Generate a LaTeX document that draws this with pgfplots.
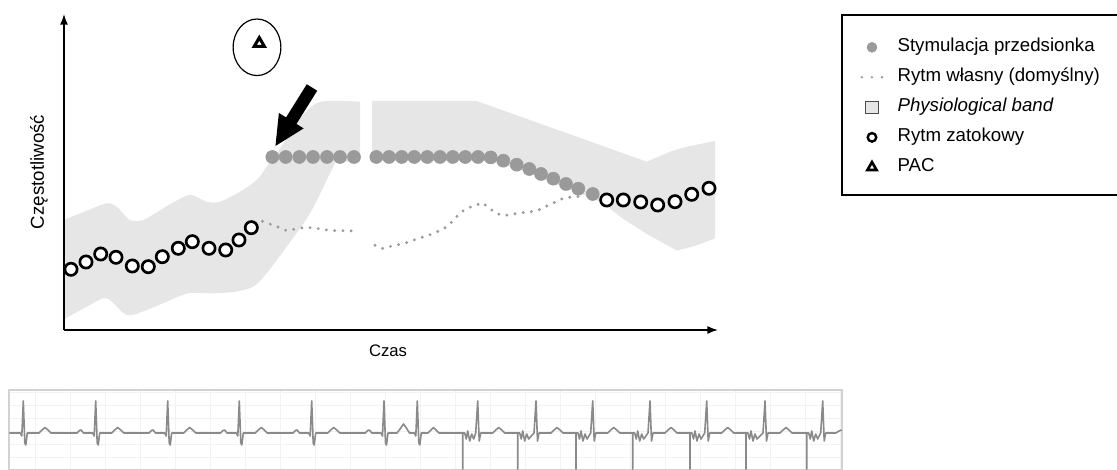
\documentclass[border=0pt]{standalone}
\usepackage{fontspec}
\setmainfont{Liberation Sans}
\usepackage{pgfplots}
\pgfplotsset{compat=1.18}
\usepgfplotslibrary{fillbetween}
\usetikzlibrary{arrows.meta}
\definecolor{band}{HTML}{E6E6E6}
\definecolor{dotgray}{HTML}{9A9A9A}
\definecolor{ecg}{HTML}{8A8A8A}
\begin{document}
\begin{tikzpicture}[x=0.75pt,y=0.75pt]
% ---------------- main chart ----------------
\begin{axis}[
  at={(64,140)}, anchor=south west,
  scale only axis, width=490.5pt, height=237pt,
  xmin=64, xmax=718, ymin=140, ymax=456,
  axis lines=left,
  x axis line style={line width=1.1pt, -{Latex[length=8pt,width=6pt]}},
  y axis line style={line width=1.1pt, -{Latex[length=8pt,width=6pt]}},
  ticks=none, clip=false, axis on top,
  xlabel={Czas}, ylabel={Częstotliwość},
  xlabel style={at={(axis description cs:0.4954,-0.0665)}, anchor=center, font=\fontsize{12.5}{14}\selectfont},
  ylabel style={at={(axis description cs:-0.0382,0.5)}, anchor=center, font=\fontsize{14}{16}\selectfont},
  legend style={at={(axis description cs:1.2177,0.9228)}, anchor=north west, draw=none, fill=none,
    inner sep=0pt, row sep=9.5pt, column sep=10.6pt, font=\fontsize{14}{16}\selectfont,
    nodes={inner sep=0pt, text height=10pt, text depth=3pt}},
  legend cell align=left,
]
% legend images
\addlegendimage{only marks, mark=*, mark size=3.75pt, dotgray, mark options={draw=dotgray, fill=dotgray}}
\addlegendimage{legend image code/.code={\draw[dotgray, line width=2pt, line cap=round, dash pattern=on 0pt off 7.5pt] (0.3cm-7.5pt,0pt) -- (0.3cm+7.6pt,0pt);}}
\addlegendimage{legend image code/.code={\draw[fill=band, draw=black!70, line width=0.75pt] (0.3cm-4.7pt,-4.7pt) rectangle (0.3cm+4.7pt,4.7pt);}}
\addlegendimage{only marks, black, mark=*, mark size=3.2pt, mark options={draw=black, fill=white, line width=1.8pt}}
\addlegendimage{only marks, black, mark=triangle*, mark size=3.9pt, mark options={draw=black, fill=white, line width=2pt}}
\legend{Stymulacja przedsionka, Rytm własny (domyślny), \textit{Physiological band}, Rytm zatokowy, PAC}

% physiological band, left part
\addplot[draw=none, name path=u1, smooth, forget plot] coordinates {
 (64,250) (86,259) (106.7,266.7) (116.7,263.3) (130,250) (143.3,250) (155,256.7) (171.7,266.7)
 (190,275) (206.7,268.3) (220,268.3) (240,278.3) (256.7,290) (266.7,303.3) (276.7,316.7)
 (290,336.7) (303,355) (321,368.3) (360,368.3)};
\addplot[draw=none, name path=l1, smooth, forget plot] coordinates {
 (64,150.7) (86.7,163.3) (106.7,171.7) (126.7,155) (146.7,160) (166.7,168.3) (188.3,176.7)
 (213.3,176.7) (235,178.3) (253.3,183.3) (266.7,196.7) (286.7,223.3) (310,256.7) (333.3,303.3)
 (337,308.3) (360,308)};
\addplot[fill=band, draw=none, forget plot] fill between[of=u1 and l1];
% physiological band, right part
\addplot[draw=none, name path=u2, forget plot] coordinates {
 (372,369) (476.7,369) (646.7,308.3) (670,318.3) (686.7,323.3) (715,329)};
\addplot[draw=none, name path=l2, forget plot] coordinates {
 (372,309) (490.7,309) (503.3,305.3) (516.7,301.3) (529.3,297) (541,292) (553.3,287.3)
 (566,282) (578.3,277.3) (592.7,272) (606.7,264) (620,253.3) (646.7,236) (676.7,219.5)
 (695,224) (715,231.7)};
\addplot[fill=band, draw=none, forget plot] fill between[of=u2 and l2];

% Rytm wlasny (dotted)
\addplot[dotgray, line width=2.4pt, line cap=round, dash pattern=on 0pt off 6.2pt, forget plot] coordinates {
 (262.5,248.7) (270.7,245.7) (278.7,242.7) (286.7,239.3) (295,241) (303.3,242.3) (312,242.3)
 (320.7,241) (329,239.7) (337.3,239.3) (346,239.3) (354.3,239)};
\addplot[dotgray, line width=2.4pt, line cap=round, dash pattern=on 0pt off 6.2pt, forget plot] coordinates {
 (375,224.7) (383.3,221.3) (391.7,224) (400,225.7) (408,227.7) (416,230.7) (424.3,233.3)
 (432.3,236) (440.3,239.7) (448,244) (453.7,250) (459.3,256.3) (466.7,261.7) (474.7,264.3)
 (482.5,267.2) (489.2,261.8) (496,256.7) (504,254.3) (512.2,255.8) (520.7,257.3) (529.3,258)
 (537.3,259.3) (545,263.3) (552.7,266.7) (560.7,270.7) (568.3,272.7) (576.7,273.3) (585,274)};

% Stymulacja przedsionka (grey dots)
\addplot[only marks, dotgray, mark=*, mark size=4.9pt, mark options={draw=none, fill=dotgray}, forget plot] coordinates {
 (272.3,313) (285.7,313) (299.3,313) (313,313) (327,313) (340,313) (354,313)
 (376.3,313) (389,313) (401.7,313) (414.3,313) (427.3,313) (440,313) (452.7,313)
 (465.3,313) (478,313) (490.7,312.6) (503.3,309.3) (516.7,305.3) (529.3,301) (541,296)
 (553.3,291.3) (566,286) (578.3,281.3) (592.7,276)};

% Rytm zatokowy (open circles)
\addplot[only marks, black, mark=*, mark size=4.6pt, mark options={draw=black, fill=white, line width=2pt}, forget plot] coordinates {
 (71,200.7) (86,208) (100.7,216) (116,212.7) (132.3,204) (148.3,203.3) (162.3,213.3)
 (178.3,221.7) (192.3,228.3) (209,221.7) (225.7,220) (239,230) (251.3,242.3)
 (606.7,270) (623.3,270) (640.7,268) (657.7,265) (675,268.3) (691.7,275.7) (709,281.7)};

% PAC
\addplot[only marks, black, mark=triangle*, mark size=4.4pt, mark options={draw=black, fill=white, line width=2.3pt}, forget plot] coordinates {(259.3,426.5)};
\draw[line width=0.9pt] (axis cs:257,422.7) ellipse [x radius=17.9pt, y radius=21.2pt];

% black arrow
\draw[line width=9.2pt, -{Triangle[length=23pt, width=20pt]}] (axis cs:312,382.5) -- (axis cs:275,323.3);

% legend frame
\draw[line width=0.9pt] (axis cs:842,455) rectangle (axis cs:1125,275);
\end{axis}

% ---------------- ECG strip ----------------
\begin{axis}[
  at={(9,0)}, anchor=south west,
  scale only axis, width=624.75pt, height=60pt,
  xmin=9, xmax=842, ymin=0, ymax=80,
  xtick distance=35, ytick distance=13,
  xticklabels={}, yticklabels={}, major tick length=0pt,
  grid=major, grid style={gray!10, line width=0.5pt},
  axis line style={gray!35, line width=0.8pt},
]
\addplot[ecg, line width=1.2pt, line join=round] coordinates {
 (9.3,37) (20.3,37) (21.8,34) (23.3,69) (24.8,27) (25.8,25) (27.3,37) (39,37) (42,40) (45,42.5) (48,40) (51,37)
 (77,37) (79.5,39.5) (81,40) (83.5,37) (92.7,37) (94.2,34) (95.7,69) (97.2,27) (98.2,25) (99.7,37) (111.7,37) (114.7,40) (117.7,42.5) (120.7,40) (123.7,37)
 (149,37) (151.5,39.5) (153,40) (155.5,37) (164.7,37) (166.2,34) (167.7,69) (169.2,27) (170.2,25) (171.7,37) (183.7,37) (186.7,40) (189.7,42.5) (192.7,40) (195.7,37)
 (220.6,37) (223.1,39.5) (224.6,40) (227.1,37) (236.3,37) (237.8,34) (239.3,69) (240.8,27) (241.8,25) (243.3,37) (255.3,37) (258.3,40) (261.3,42.5) (264.3,40) (267.3,37)
 (293,37) (295.5,39.5) (297,40) (299.5,37) (308.7,37) (310.2,34) (311.7,69) (313.2,27) (314.2,25) (315.7,37) (327.7,37) (330.7,40) (333.7,42.5) (336.7,40) (339.7,37)
 (365.3,37) (367.8,39.5) (369.3,40) (371.8,37) (381,37) (382.5,34) (384,69) (385.5,27) (386.5,25) (388,37) (397,37) (400,41) (403.5,46) (407,41) (409.5,37)
 (414.3,37) (415.8,34) (417.3,69) (418.8,27) (419.8,25) (421.3,37) (428,37) (431,40) (433.5,42.5) (436,40) (439,37)
 (462.7,37) (462.7,1) (462.7,37) (464.7,37) (466.2,31) (467.7,39) (469.7,29) (471.7,36) (473.7,31) (475.7,37) (477.7,69) (479.2,29) (480.7,37) (492.7,37) (495.7,40) (498.7,42.5) (501.7,40) (504.7,37)
 (517.7,37) (517.7,1) (517.7,37) (519.7,37) (521.2,31) (522.7,39) (524.7,29) (526.7,36) (528.7,31) (534,37) (536,69) (537.5,29) (539,37) (551,37) (554,40) (557,42.5) (560,40) (563,37)
 (576,37) (576,1) (576,37) (578,37) (579.5,31) (581,39) (583,29) (585,36) (587,31) (590.7,37) (592.7,69) (594.2,29) (595.7,37) (607.7,37) (610.7,40) (613.7,42.5) (616.7,40) (619.7,37)
 (632.7,37) (632.7,1) (632.7,37) (634.7,37) (636.2,31) (637.7,39) (639.7,29) (641.7,36) (643.7,31) (648,37) (650,69) (651.5,29) (653,37) (665,37) (668,40) (671,42.5) (674,40) (677,37)
 (690,37) (690,1) (690,37) (692,37) (693.5,31) (695,39) (697,29) (699,36) (701,31) (704.7,37) (706.7,69) (708.2,29) (709.7,37) (721.7,37) (724.7,40) (727.7,42.5) (730.7,40) (733.7,37)
 (746,37) (746,1) (746,37) (748,37) (749.5,31) (751,39) (753,29) (755,36) (757,31) (763,37) (765,69) (766.5,29) (768,37) (780,37) (783,40) (786,42.5) (789,40) (792,37)
 (806.7,37) (806.7,1) (806.7,37) (808.7,37) (810.2,31) (811.7,39) (813.7,29) (815.7,36) (817.7,31) (820.7,37) (822.7,69) (824.2,29) (825.7,37) (836,37) (839,39) (841.7,40)};
\end{axis}
\pgfresetboundingbox
\useasboundingbox (0,0) rectangle (1117,470);
\end{tikzpicture}
\end{document}
